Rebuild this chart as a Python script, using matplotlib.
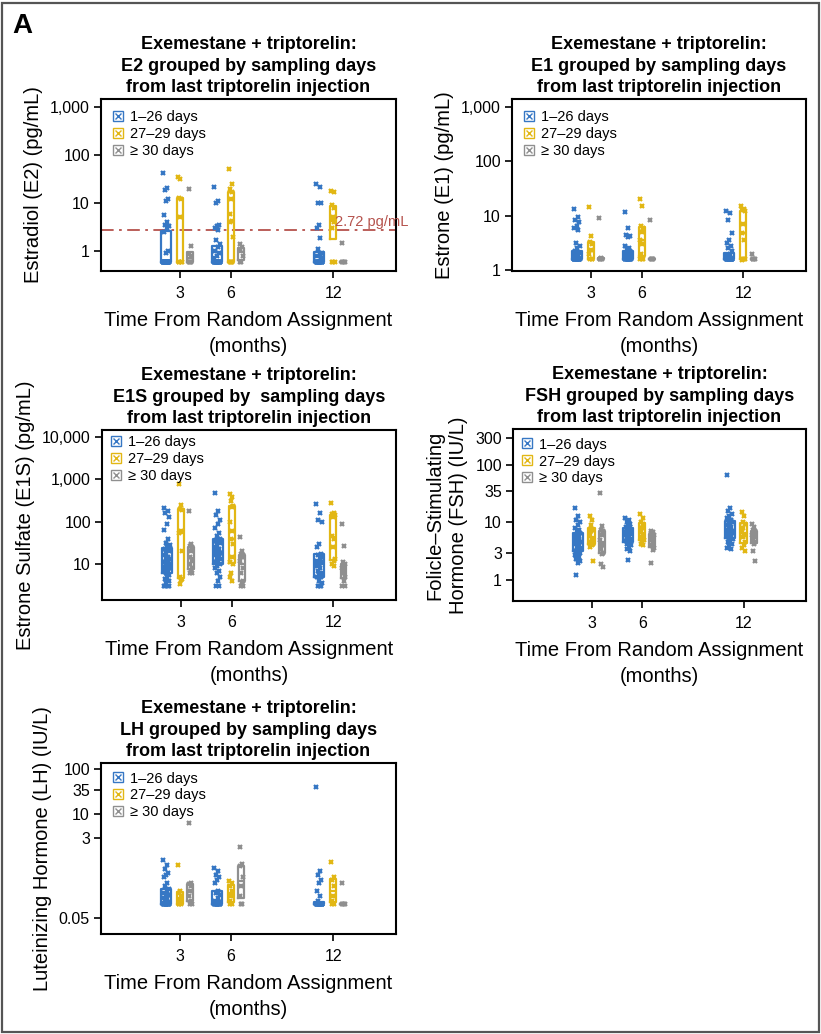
import matplotlib
matplotlib.use("Agg")
import matplotlib.pyplot as plt
import numpy as np
from matplotlib.lines import Line2D
from matplotlib.legend_handler import HandlerTuple
from matplotlib.ticker import FixedLocator, FixedFormatter, NullLocator
from matplotlib.patches import Rectangle

plt.rcParams['font.family'] = ['Liberation Sans', 'DejaVu Sans']

# ---------------- data ----------------
months = [3, 6, 12]
month_labels = ['3', '6', '12']
groups = ['1\u201326 days', '27\u201329 days', '\u2265 30 days']

# E2 (pg/mL): per group, values at months 3, 6, 12
e2_1_26 = [
    [43, 21, 19, 12, 11, 5.5, 4, 3.5, 3.3, 3, 2.5, 1, 0.9] + [0.6] * 27,
    [22, 11, 10, 3.5, 3.3, 3.0, 2.8, 1.7, 1.4, 1.2, 1.0, 0.9, 0.8, 0.7] + [0.6] * 21,
    [25, 22, 10, 10, 3.5, 3, 1.9, 1.1, 0.9, 0.85, 0.8, 0.7] + [0.6] * 20,
]
e2_27_29 = [
    [35, 32, 13, 12, 5, 0.6, 0.6, 0.6, 0.6],
    [52, 25, 20, 17, 12, 6, 4.2, 4, 2, 0.6, 0.6, 0.6, 0.6],
    [18, 17, 9, 8, 5, 4.5, 4, 3, 0.6, 0.6, 0.6],
]
e2_30 = [
    [20, 1.3, 0.85, 0.8, 0.6, 0.6, 0.6, 0.6],
    [1.4, 1.2, 1.1, 0.8, 0.6, 0.6],
    [1.5, 0.6, 0.6, 0.6, 0.6],
]
e2_threshold = 2.72

# E1 (pg/mL)
e1_1_26 = [
    [13, 9.5, 8.5, 7.5, 6.5, 6, 5.5, 3.2, 2.8, 2.5, 2.2, 2.1, 2.0, 1.9, 1.8, 1.7] + [1.6] * 24,
    [11.5, 6, 4.5, 4.2, 4, 2.8, 2.5, 2.3, 2.2, 2.1, 2, 1.9, 1.8, 1.7] + [1.6] * 17,
    [12, 11, 8.5, 4.7, 3.5, 3.2, 2.8, 2.5, 2.2, 2, 1.8] + [1.6] * 24,
]
e1_27_29 = [
    [14.5, 4.2, 3.3, 3, 2.3, 2, 1.6, 1.6, 1.6],
    [20, 15, 6.5, 6, 5, 3.5, 3, 2, 1.6, 1.6, 1.6],
    [15, 13, 12.5, 12, 7, 4.7, 3.5, 1.6, 1.6, 1.6, 1.5],
]
e1_30 = [
    [9, 1.7, 1.6, 1.6, 1.6, 1.6],
    [8.5, 1.6, 1.6, 1.6, 1.6],
    [2.0, 1.6, 1.6, 1.6, 1.6],
]

# E1S (pg/mL)
e1s_1_26 = [
    [210, 180, 160, 130, 90, 65, 40, 32, 28, 25, 22, 20, 18, 16, 15, 14, 13, 12, 11,
     10.5, 10, 9.5, 9, 8.5, 8, 7.5, 7, 6.5, 6, 5.5, 5, 4.5, 4, 3.5, 3, 3, 3, 3],
    [480, 180, 140, 110, 90, 70, 55, 45, 40, 38, 35, 32, 28, 25, 22, 20, 18, 17, 16,
     15, 14, 13, 12, 11, 10, 9, 8, 7, 6, 5, 4, 3, 3],
    [260, 160, 110, 100, 30, 25, 17, 16, 15, 14, 12, 11, 10, 9, 8, 7, 6, 5.5, 5, 5,
     4, 3.5, 3, 3, 3],
]
e1s_27_29 = [
    [780, 250, 200, 190, 60, 55, 20, 5, 4.5, 4.3, 3.3],
    [460, 380, 300, 240, 220, 100, 60, 40, 30, 15, 11, 10, 6, 5, 4],
    [280, 160, 150, 140, 130, 45, 40, 25, 13, 12, 10, 9],
]
e1s_30 = [
    [180, 30, 27, 25, 20, 15, 12, 10, 8, 7, 6, 6],
    [43, 20, 17, 16, 15, 12, 8, 6, 4, 3.5, 3, 3],
    [90, 26, 11, 10, 9, 8, 7, 6, 5, 4, 3, 3],
]

# FSH (IU/L)
fsh_1_26 = [
    [18, 13, 11, 10, 9, 8, 7.5, 7, 6.5, 6.2, 6, 5.8, 5.5, 5.2, 5, 4.8, 4.6, 4.4, 4.2,
     4, 3.8, 3.6, 3.4, 3.2, 3, 2.9, 2.7, 2.5, 2.3, 2.1, 2, 1.2],
    [12, 11, 10, 9.5, 9, 8.5, 8.2, 8, 7.5, 7, 6.8, 6.5, 6.2, 6, 5.8, 5.5, 5.2, 5, 4.8,
     4.5, 4.3, 4, 3.7, 3.4, 3.2, 2.2],
    [67, 18, 16, 14, 13, 12, 11, 10.5, 10, 9.5, 9, 8.5, 8, 7.5, 7, 6.8, 6.5, 6.2, 6,
     5.7, 5.4, 5.1, 4.8, 4.5, 4.2, 3.9, 3.6, 3.4],
]
fsh_27_29 = [
    [13, 11, 9, 7.5, 7, 6, 5, 4.5, 4.2, 4, 3.8, 2.1],
    [14, 12, 10, 9.5, 8, 7, 6, 5.5, 5, 4.5, 4.2, 4],
    [15, 13, 10, 9.5, 8, 7, 6, 5.5, 4.5, 4, 3.6, 3.2],
]
fsh_30 = [
    [33, 8.8, 7.5, 7, 6, 5, 4, 3.5, 3, 2.8, 1.9, 1.7],
    [7.2, 6.8, 6.5, 6, 5.5, 5, 4.5, 4, 3.6, 3.3, 2],
    [9.5, 8.5, 7.5, 7, 6.5, 6, 5.5, 5, 4.5, 4.2, 3.2, 2.1],
]

# LH (IU/L)
lh_1_26 = [
    [0.95, 0.75, 0.6, 0.5, 0.45, 0.4, 0.3, 0.25, 0.22, 0.2, 0.18, 0.16, 0.15, 0.14,
     0.13, 0.12, 0.11] + [0.1] * 16,
    [0.65, 0.55, 0.45, 0.4, 0.35, 0.3, 0.2, 0.18, 0.16, 0.14, 0.12, 0.11] + [0.1] * 14,
    [40, 0.55, 0.45, 0.35, 0.3, 0.2, 0.15, 0.12] + [0.1] * 22,
]
lh_27_29 = [
    [0.75, 0.2, 0.18, 0.15, 0.12, 0.1, 0.1, 0.1],
    [0.33, 0.3, 0.26, 0.2, 0.15, 0.12, 0.1, 0.1],
    [0.85, 0.4, 0.35, 0.25, 0.15, 0.12, 0.1, 0.1],
]
lh_30 = [
    [6.3, 0.3, 0.28, 0.25, 0.2, 0.15, 0.12, 0.1, 0.1],
    [1.9, 0.8, 0.7, 0.4, 0.25, 0.15, 0.1, 0.1],
    [0.3, 0.1, 0.1, 0.1, 0.1],
]

# ---------------- styles ----------------
colors = ['#3677c4', '#e2b714', '#8f8f8f']
offsets = [-0.82, 0.0, 0.6]
box_widths = [0.6, 0.36, 0.34]
ref_color = '#b5524c'

W, H = 821, 1034
fig = plt.figure(figsize=(W / 100, H / 100), dpi=100)


def axes_px(left, right, top, bottom):
    return fig.add_axes([left / W, 1 - bottom / H, (right - left) / W, (bottom - top) / H])


def title_for(analyte, extra=' '):
    return ('Exemestane + triptorelin:\n' + analyte + ' grouped by' + extra +
            'sampling days\nfrom last triptorelin injection')


def draw_panel(ax, data, title, ylabel, yticks, yticklabels, ylim, legend_anchor):
    for gi, series in enumerate(data):
        c = colors[gi]
        w = box_widths[gi]
        for mi, m in enumerate(months):
            vals = np.asarray(series[mi], dtype=float)
            n = len(vals)
            jit = ((np.arange(n) * 0.6180339887) % 1.0 - 0.5) * w * 0.6
            ax.plot(m + offsets[gi] + jit, vals, ls='none', marker='x', ms=3.2,
                    mew=1.6, color=c, zorder=2)
            ax.boxplot([vals], positions=[m + offsets[gi]], widths=w, whis=0,
                       showcaps=False, showfliers=False, manage_ticks=False,
                       boxprops=dict(color=c, lw=1.6),
                       medianprops=dict(color=c, lw=1.6),
                       whiskerprops=dict(lw=0), zorder=3)
    ax.set_yscale('log')
    ax.set_ylim(*ylim)
    ax.yaxis.set_major_locator(FixedLocator(yticks))
    ax.yaxis.set_major_formatter(FixedFormatter(yticklabels))
    ax.yaxis.set_minor_locator(NullLocator())
    ax.set_xlim(-1.65, 15.7)
    ax.set_xticks(months)
    ax.set_xticklabels(month_labels)
    ax.xaxis.set_minor_locator(NullLocator())
    ax.tick_params(axis='both', direction='out', length=5, width=1.2, labelsize=11.5)
    ax.tick_params(axis='x', pad=6)
    ax.tick_params(axis='y', pad=3)
    for s in ax.spines.values():
        s.set_linewidth(1.5)
    ax.set_title(title, fontsize=13, fontweight='bold', pad=5, linespacing=1.35)
    ax.set_xlabel('Time From Random Assignment\n(months)', fontsize=14.5,
                  labelpad=7, linespacing=1.45)
    ax.set_ylabel(ylabel, fontsize=14.5, labelpad=5, linespacing=1.3)
    handles = []
    for c in colors:
        h1 = Line2D([], [], ls='none', marker='s', ms=7.5, mfc='none', mec=c, mew=1.0)
        h2 = Line2D([], [], ls='none', marker='x', ms=5, mew=1.0, color=c)
        handles.append((h1, h2))
    ax.legend(handles, groups, handler_map={tuple: HandlerTuple(ndivide=1, pad=0)},
              loc='upper left', bbox_to_anchor=legend_anchor, frameon=False,
              fontsize=10.5, handlelength=0.7, handletextpad=0.5,
              labelspacing=0.2, borderaxespad=0.0, borderpad=0.0)


ax1 = axes_px(101, 396, 99, 271)
draw_panel(ax1, [e2_1_26, e2_27_29, e2_30], title_for('E2'), 'Estradiol (E2) (pg/mL)',
           [1, 10, 100, 1000], ['1', '10', '100', '1,000'], (0.383, 1470), (0.04, 0.935))
ax1.axhline(e2_threshold, color=ref_color, lw=1.3, ls=(0, (7, 3, 1.5, 3)), zorder=1)
ax1.text(12.1, e2_threshold * 1.05, '2.72 pg/mL', color=ref_color, fontsize=10.5,
         ha='left', va='bottom')

ax2 = axes_px(512, 806, 99, 271)
draw_panel(ax2, [e1_1_26, e1_27_29, e1_30], title_for('E1'), 'Estrone (E1) (pg/mL)',
           [1, 10, 100, 1000], ['1', '10', '100', '1,000'], (0.96, 1400), (0.04, 0.935))

ax3 = axes_px(102, 396, 430, 600)
draw_panel(ax3, [e1s_1_26, e1s_27_29, e1s_30], title_for('E1S', '  '),
           'Estrone Sulfate (E1S) (pg/mL)',
           [10, 100, 1000, 10000], ['10', '100', '1,000', '10,000'], (1.41, 14650), (0.03, 0.97))

ax4 = axes_px(513, 806, 429, 601)
draw_panel(ax4, [fsh_1_26, fsh_27_29, fsh_30], title_for('FSH'),
           'Folicle\u2013Stimulating\nHormone (FSH) (IU/L)',
           [1, 3, 10, 35, 100, 300], ['1', '3', '10', '35', '100', '300'], (0.43, 423), (0.03, 0.95))

ax5 = axes_px(101, 396, 763, 934)
draw_panel(ax5, [lh_1_26, lh_27_29, lh_30], title_for('LH'), 'Luteinizing Hormone (LH) (IU/L)',
           [0.05, 3, 10, 35, 100], ['0.05', '3', '10', '35', '100'], (0.022, 136), (0.04, 0.95))

fig.text(12 / W, 1 - 33 / H, 'A', fontsize=20, fontweight='bold', va='baseline', ha='left',
         family=['Liberation Sans Narrow', 'Liberation Sans', 'DejaVu Sans'])

fig.patches.append(Rectangle((1.5 / W, 2.5 / H), (W - 4) / W, (H - 5) / H,
                             transform=fig.transFigure, fill=False,
                             edgecolor='#555555', lw=1.6))

fig.savefig('out.png', dpi=100)
